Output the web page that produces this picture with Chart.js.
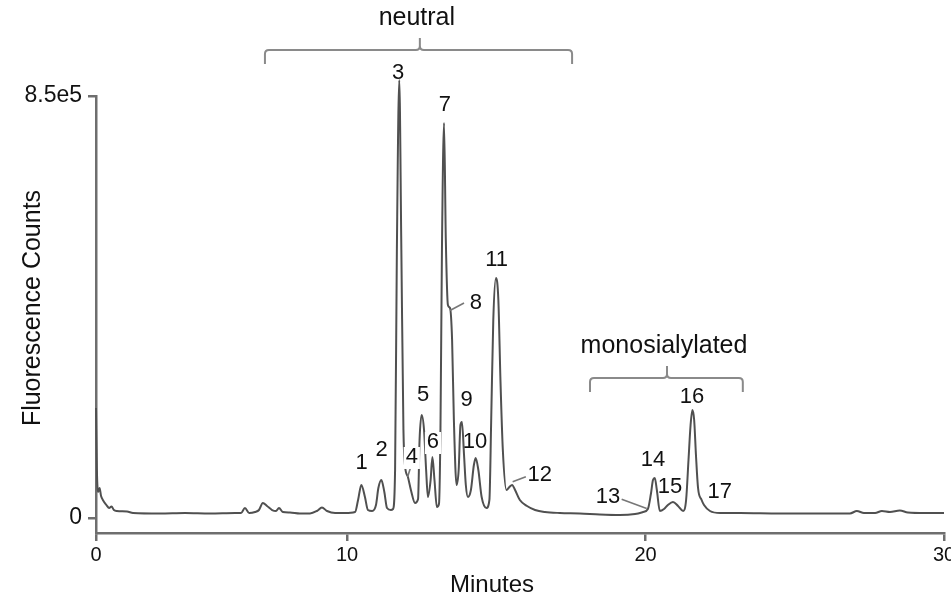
<!DOCTYPE html>
<html>
<head>
<meta charset="utf-8">
<script src="https://cdn.jsdelivr.net/npm/chart.js@4/dist/chart.umd.min.js"></script>
<style>
  html, body { margin: 0; padding: 0; background: #ffffff; }
  #c { display: block; }
</style>
</head>
<body>
<canvas id="c" width="951" height="598"></canvas>
<script>
// ---- data (minutes, fluorescence counts) ----
const times = [1.59,1.62,1.66,1.71,1.76,1.82,1.94,2.03,2.11,2.19,2.29,2.63,2.83,3.73,4.57,5.41,6.25,6.45,6.58,6.72,6.92,7.05,7.18,7.32,7.49,7.62,7.72,7.85,8.09,8.42,8.76,8.99,9.16,9.33,9.60,9.93,10.27,10.37,10.48,10.60,10.70,10.84,10.97,11.05,11.15,11.25,11.34,11.47,11.54,11.61,11.67,11.75,11.82,11.89,11.94,12.04,12.14,12.28,12.38,12.43,12.50,12.58,12.65,12.71,12.80,12.86,12.93,13.01,13.08,13.13,13.18,13.25,13.31,13.38,13.45,13.52,13.58,13.67,13.74,13.80,13.85,13.92,13.98,14.05,14.15,14.25,14.31,14.40,14.51,14.67,14.77,14.83,14.90,14.99,15.07,15.14,15.22,15.34,15.44,15.53,15.63,15.79,16.03,16.30,16.63,17.13,17.80,18.47,19.14,19.65,19.92,20.08,20.18,20.25,20.31,20.38,20.48,20.62,20.75,20.92,21.09,21.26,21.36,21.44,21.51,21.57,21.63,21.69,21.76,21.88,21.96,22.16,22.50,23.17,24.50,25.84,26.85,27.08,27.32,27.69,27.92,28.19,28.52,28.79,29.36,30.00];
const counts = [221500,96700,52400,60400,44300,36300,26200,20100,23200,16100,14100,13100,10100,9100,10100,9100,10100,10100,20100,10100,12100,16100,30200,24200,16100,14100,20100,12100,11100,9100,9100,14100,21100,14100,10100,10100,12100,36300,66500,42300,16100,14100,26200,60400,76500,52400,20100,16100,18100,96700,539800,882000,539800,177200,106700,82600,56400,30200,38300,157100,207400,177200,96700,42300,76500,122900,76500,22200,28200,177200,539800,795600,560000,429000,423000,358500,197400,66500,96700,187300,193400,126900,66500,42300,56400,106700,120800,96700,42300,20100,36300,197400,398800,483400,439100,278000,137000,56400,62400,66500,56400,36300,24200,16100,12100,10100,9100,7000,6000,8100,12100,18100,48300,76500,80600,56400,14100,18100,26200,32200,24200,14100,36300,116800,187300,217500,197400,126900,60400,36300,26200,14100,10100,10100,9100,9100,9100,14100,10100,10100,14100,12100,15100,11100,10100,10100];

const xTickValues = [1.59, 10, 20, 30];
const xTickLabels = ['0', '10', '20', '30'];
const yTickValues = [0, 850000];
const yTickLabels = ['0', '8.5e5'];

// peak number labels: text, anchor time, anchor count
const peakNames  = ['1','2','3','4','5','6','7','8','9','10','11','12','13','14','15','16','17'];
const peakLabelT = [10.49,11.16,11.71,12.17,12.55,12.88,13.28,14.32,14.01,14.29,15.01,16.46,18.74,20.25,20.82,21.56,22.49];
const peakLabelV = [110800,137000,896200,122900,247700,153100,831800,433000,237700,153100,519600,86600,42300,116800,62400,243700,52400];

// leader lines [name, t1, v1, t2, v2]
const leaders = [
  ['4', 12.03, 82600, 12.12, 100000],
  ['8', 13.45, 418000, 13.92, 433000],
  ['12', 15.55, 73000, 15.99, 83000],
  ['13', 19.20, 38000, 20.04, 19000]
];

// group brackets
const groupNames  = ['neutral', 'monosialylated'];
const groupStart  = [7.25, 18.14];
const groupEnd    = [17.54, 23.26];
const groupCenter = [12.44, 20.72];
const groupLevel  = [942600, 282000];

const FONT = '"Liberation Sans", Arial, Helvetica, sans-serif';
const TEXT = '#111111';
const AXIS = '#6e6e6e';

const annot = {
  id: 'annot',
  afterDatasetsDraw(chart) {
    const ctx = chart.ctx;
    const xs = chart.scales.x, ys = chart.scales.y;
    const px = t => xs.getPixelForValue(t);
    const py = v => ys.getPixelForValue(v);
    ctx.save();
    // leaders
    ctx.strokeStyle = '#777';
    ctx.lineWidth = 1.6;
    leaders.forEach(l => {
      ctx.beginPath();
      ctx.moveTo(px(l[1]), py(l[2]));
      ctx.lineTo(px(l[3]), py(l[4]));
      ctx.stroke();
    });
    // peak labels
    ctx.font = '22px ' + FONT;
    ctx.textAlign = 'center';
    ctx.textBaseline = 'middle';
    peakNames.forEach((n, i) => {
      const x = px(peakLabelT[i]), y = py(peakLabelV[i]);
      if (n === '4' || n === '6') {
        const w = ctx.measureText(n).width;
        ctx.fillStyle = '#ffffff';
        ctx.fillRect(x - w / 2 - 2, y - 10, w + 4, 22);
      }
      ctx.fillStyle = TEXT;
      ctx.fillText(n, x, y);
    });
    // brackets
    ctx.strokeStyle = '#8a8a8a';
    ctx.lineWidth = 2;
    groupNames.forEach((g, i) => {
      const x1 = px(groupStart[i]), x2 = px(groupEnd[i]), xc = px(groupCenter[i]);
      const y = py(groupLevel[i]);
      const d = 14, r = 4;
      ctx.beginPath();
      ctx.moveTo(x1, y + d);
      ctx.lineTo(x1, y + r);
      ctx.quadraticCurveTo(x1, y, x1 + r, y);
      ctx.lineTo(xc - r, y);
      ctx.quadraticCurveTo(xc, y, xc, y - r);
      ctx.lineTo(xc, y - 12);
      ctx.moveTo(xc, y - r);
      ctx.quadraticCurveTo(xc, y, xc + r, y);
      ctx.lineTo(x2 - r, y);
      ctx.quadraticCurveTo(x2, y, x2, y + r);
      ctx.lineTo(x2, y + d);
      ctx.stroke();
      ctx.fillStyle = TEXT;
      ctx.font = '25px ' + FONT;
      ctx.textAlign = 'center';
      ctx.textBaseline = 'middle';
      ctx.fillText(g, xc - 3, y - 32);
    });
    // axis titles
    ctx.fillStyle = TEXT;
    ctx.font = '24px ' + FONT;
    ctx.fillText('Minutes', 492, 585);
    ctx.font = '25px ' + FONT;
    ctx.translate(33, 308);
    ctx.rotate(-Math.PI / 2);
    ctx.fillText('Fluorescence Counts', 0, 0);
    ctx.restore();
  }
};

new Chart(document.getElementById('c'), {
  type: 'line',
  data: {
    datasets: [{
      data: times.map((t, i) => ({ x: t, y: counts[i] })),
      borderColor: '#505050',
      borderWidth: 2,
      pointRadius: 0,
      cubicInterpolationMode: 'monotone',
      clip: false,
      fill: false
    }]
  },
  options: {
    responsive: false,
    animation: false,
    devicePixelRatio: 1,
    layout: { padding: { top: 96, right: 7, left: 0, bottom: 0 } },
    plugins: { legend: { display: false }, tooltip: { enabled: false } },
    scales: {
      x: {
        type: 'linear',
        min: 1.59, max: 30,
        afterBuildTicks: s => { s.ticks = xTickValues.map(v => ({ value: v })); },
        afterFit: s => { s.height = 65; s.paddingLeft = 0; s.paddingRight = 0; },
        ticks: {
          autoSkip: false, maxRotation: 0, minRotation: 0, padding: 2,
          color: TEXT, font: { family: FONT, size: 20 },
          callback: (v, i) => xTickLabels[i]
        },
        grid: { drawOnChartArea: false, drawTicks: true, tickLength: 8, color: AXIS, lineWidth: 2.5 },
        border: { display: true, color: AXIS, width: 2.5 }
      },
      y: {
        type: 'linear',
        min: -30200, max: 850000,
        afterBuildTicks: s => { s.ticks = yTickValues.map(v => ({ value: v })); },
        afterFit: s => { s.width = 96; s.paddingTop = 0; s.paddingBottom = 0; },
        ticks: {
          autoSkip: false, padding: 6,
          color: TEXT, font: { family: FONT, size: 23 },
          callback: (v, i) => yTickLabels[i]
        },
        grid: { drawOnChartArea: false, drawTicks: true, tickLength: 8, color: AXIS, lineWidth: 2.5 },
        border: { display: true, color: AXIS, width: 2.5 }
      }
    }
  },
  plugins: [annot]
});
</script>
</body>
</html>
